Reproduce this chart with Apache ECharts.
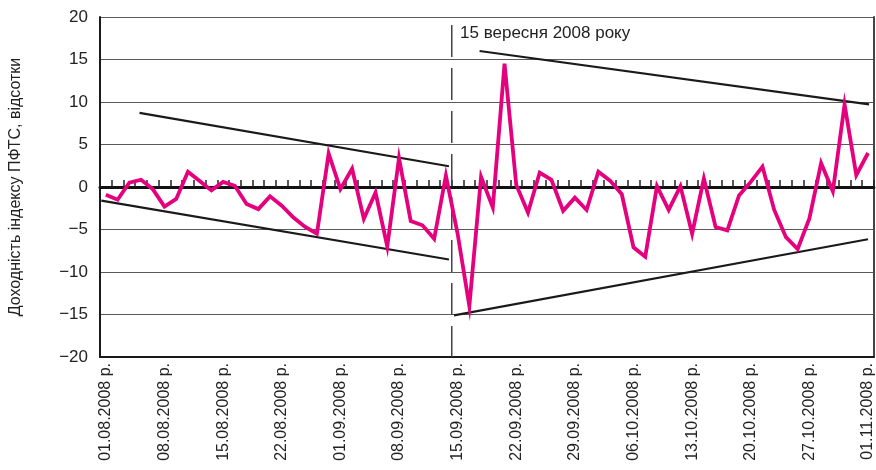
<!DOCTYPE html>
<html>
<head>
<meta charset="utf-8">
<script src="https://cdn.jsdelivr.net/npm/echarts/dist/echarts.min.js"></script>
<style>
  html, body { margin: 0; padding: 0; background: #fff; }
  #chart { width: 876px; height: 470px; }
</style>
</head>
<body>
<div id="chart"></div>
<script>
// trading days, 01.08.2008 - 01.11.2008
const dates = [
  '01.08.2008', '04.08.2008', '05.08.2008', '06.08.2008', '07.08.2008', '08.08.2008',
  '11.08.2008', '12.08.2008', '13.08.2008', '14.08.2008', '15.08.2008',
  '18.08.2008', '19.08.2008', '20.08.2008', '21.08.2008', '22.08.2008',
  '26.08.2008', '27.08.2008', '28.08.2008', '29.08.2008',
  '01.09.2008', '02.09.2008', '03.09.2008', '04.09.2008', '05.09.2008',
  '08.09.2008', '09.09.2008', '10.09.2008', '11.09.2008', '12.09.2008',
  '15.09.2008', '16.09.2008', '17.09.2008', '18.09.2008', '19.09.2008',
  '22.09.2008', '23.09.2008', '24.09.2008', '25.09.2008', '26.09.2008',
  '29.09.2008', '30.09.2008', '01.10.2008', '02.10.2008', '03.10.2008',
  '06.10.2008', '07.10.2008', '08.10.2008', '09.10.2008', '10.10.2008',
  '13.10.2008', '14.10.2008', '15.10.2008', '16.10.2008', '17.10.2008',
  '20.10.2008', '21.10.2008', '22.10.2008', '23.10.2008', '24.10.2008',
  '27.10.2008', '28.10.2008', '29.10.2008', '30.10.2008', '31.10.2008',
  '01.11.2008'
]

// daily return of PFTS index, %
const returns = [
  -0.9, -1.5, 0.5, 0.85, -0.25, -2.3, -1.4, 1.8, 0.7, -0.4,
  0.6, 0.15, -2.0, -2.6, -1.1, -2.2, -3.6, -4.7, -5.5, 3.95,
  -0.25, 2.15, -3.75, -0.65, -7.0, 3.4, -4.0, -4.5, -6.1, 1.35,
  -5.5, -14.0, 1.2, -2.4, 14.5, 0.25, -3.0, 1.7, 0.85, -2.8,
  -1.25, -2.7, 1.8, 0.75, -0.85, -7.1, -8.2, 0.1, -2.7, 0.1,
  -5.5, 1.0, -4.7, -5.1, -1.0, 0.6, 2.4, -2.7, -5.9, -7.3,
  -3.7, 2.8, -0.5, 9.7, 1.4, 4.0
]

const yTicks = [-20, -15, -10, -5, 0, 5, 10, 15, 20]

// trend channels, [day index, value]
const trendLines = [
  [[2.87, 8.72], [29.26, 2.44]],
  [[-0.39, -1.6], [29.26, -8.53]],
  [[31.87, 16.0], [65.09, 9.73]],
  [[29.69, -15.1], [65.0, -6.15]]
]

// 15.09.2008 marker
const eventLine = [[29.5, 20], [29.5, -20]]
const eventText = '15 вересня 2008 року'

const font = "'Liberation Sans', Arial, sans-serif"

const trendSeries = trendLines.map(function(pts) {
  return {
    type: 'line',
    xAxisIndex: 2,
    yAxisIndex: 0,
    data: pts,
    symbol: 'none',
    silent: true,
    z: 3,
    lineStyle: { color: '#1a1a1a', width: 2.2 }
  }
})

const chart = echarts.init(document.getElementById('chart'), null, { renderer: 'canvas' })

chart.setOption({
  animation: false,
  backgroundColor: '#fff',
  grid: { left: 98, right: 1, top: 17, bottom: 113 },
  xAxis: [{
    type: 'category',
    data: dates,
    boundaryGap: true,
    position: 'bottom',
    axisLine: { onZero: false, lineStyle: { color: '#1a1a1a', width: 2 } },
    axisTick: { show: false },
    axisLabel: {
      interval: 4,
      rotate: 90,
      margin: 6,
      color: '#222',
      fontSize: 16,
      fontFamily: font,
      formatter: function(v) { return v + ' р.' }
    },
    splitLine: { show: false }
  }, {
    type: 'category',
    data: dates,
    boundaryGap: true,
    axisLine: { onZero: true, onZeroAxisIndex: 0, lineStyle: { color: '#111', width: 3 } },
    axisTick: { show: true, interval: 0, length: 7, lineStyle: { color: '#222', width: 1.5 } },
    axisLabel: { show: false },
    splitLine: { show: false }
  }, {
    type: 'value',
    min: -0.5,
    max: dates.length - 0.5,
    show: false
  }],
  yAxis: [{
    type: 'value',
    min: yTicks[0],
    max: yTicks[yTicks.length - 1],
    interval: 5,
    name: 'Доходність індексу ПФТС, відсотки',
    nameLocation: 'middle',
    nameGap: 76,
    nameTextStyle: { color: '#222', fontSize: 16, fontFamily: font },
    axisLine: { show: true, onZero: false, lineStyle: { color: '#1a1a1a', width: 2 } },
    axisTick: { show: false },
    axisLabel: {
      color: '#222',
      fontSize: 17,
      fontFamily: font,
      margin: 12,
      formatter: function(v) { return v < 0 ? '\u2212' + Math.abs(v) : String(v) }
    },
    splitLine: { show: true, lineStyle: { color: '#5a5a5a', width: 1.2 } }
  }, {
    type: 'value',
    min: yTicks[0],
    max: yTicks[yTicks.length - 1],
    position: 'right',
    axisLine: { show: true, onZero: false, lineStyle: { color: '#444', width: 2 } },
    axisTick: { show: false },
    axisLabel: { show: false },
    splitLine: { show: false }
  }],
  graphic: [{
    type: 'text',
    left: 460,
    top: 25,
    style: { text: eventText, fill: '#222', font: '17px ' + font }
  }],
  series: [{
    type: 'line',
    xAxisIndex: 2,
    yAxisIndex: 0,
    data: eventLine,
    symbol: 'none',
    silent: true,
    z: 1,
    lineStyle: { color: '#444', width: 1.5, type: [32, 11], dashOffset: 35 }
  }].concat(trendSeries).concat([{
    name: 'ПФТС',
    type: 'line',
    xAxisIndex: 0,
    yAxisIndex: 0,
    data: returns,
    symbol: 'none',
    z: 4,
    lineStyle: { color: '#e5007d', width: 3.8, join: 'miter' }
  }])
})
</script>
</body>
</html>
